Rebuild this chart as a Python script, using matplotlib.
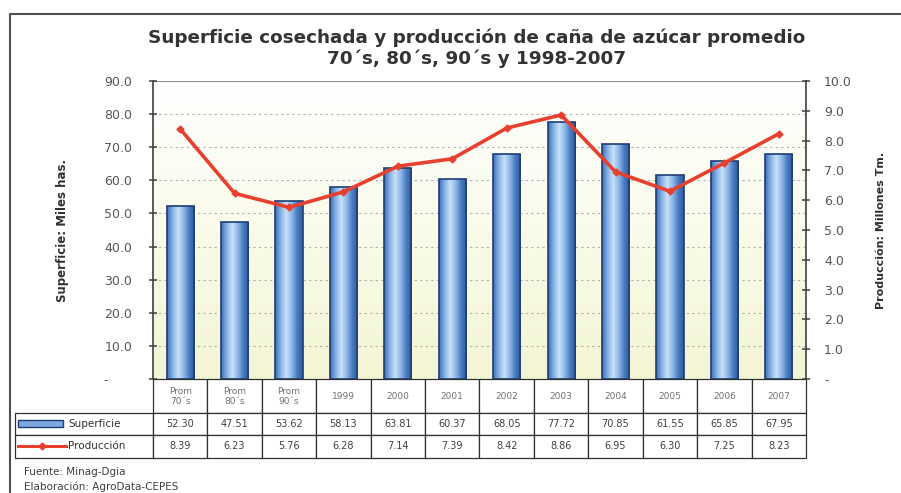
import numpy as np
import matplotlib
matplotlib.use("Agg")
import matplotlib.pyplot as plt
from matplotlib.colors import LinearSegmentedColormap
from matplotlib.patches import Rectangle
from matplotlib.lines import Line2D

plt.rcParams["font.family"] = ["DejaVu Sans"]

# ---- data ----
categories = ["Prom\n70´s", "Prom\n80´s", "Prom\n90´s", "1999", "2000", "2001",
              "2002", "2003", "2004", "2005", "2006", "2007"]
superficie = [52.30, 47.51, 53.62, 58.13, 63.81, 60.37, 68.05, 77.72, 70.85, 61.55, 65.85, 67.95]
produccion = [8.39, 6.23, 5.76, 6.28, 7.14, 7.39, 8.42, 8.86, 6.95, 6.30, 7.25, 8.23]
left_ticks = [10, 20, 30, 40, 50, 60, 70, 80, 90]
right_ticks = [1, 2, 3, 4, 5, 6, 7, 8, 9, 10]

title = "Superficie cosechada y producción de caña de azúcar promedio\n70´s, 80´s, 90´s y 1998-2007"

W, H = 901, 493
fig = plt.figure(figsize=(W / 100, H / 100), dpi=100)

# axes box in pixels (left, top, right, bottom)
L, T, R, B = 153, 81, 806, 379
ax = fig.add_axes([L / W, 1 - B / H, (R - L) / W, (B - T) / H])
ax2 = ax.twinx()

x = np.arange(len(categories))
ax.set_xlim(-0.5, len(categories) - 0.5)
ax.set_ylim(0, 90)
ax2.set_ylim(0, 10)

# background gradient: white top -> pale yellow bottom
bg = LinearSegmentedColormap.from_list("bg", ["#F3F5D4", "#FAFBEA", "#FFFFFF"])
ax.imshow(np.linspace(0, 1, 100).reshape(-1, 1), cmap=bg, aspect="auto",
          extent=[-0.5, len(categories) - 0.5, 0, 90], origin="lower", zorder=0)

# grid
for v in left_ticks[:-1]:
    ax.axhline(v, color="#B0B0B0", lw=0.8, ls=(0, (2, 3)), zorder=1)

# bars with cylinder-like gradient
bars = ax.bar(x, superficie, width=0.5, color="none", edgecolor="#1F3D73",
              linewidth=1.2, zorder=3)
bar_cmap = LinearSegmentedColormap.from_list(
    "barg", ["#3E6FB5", "#86B2E6", "#C9E0F8", "#8DB8EA", "#4A7CC0", "#2E5C9E"])
grad = np.linspace(0, 1, 64).reshape(1, -1)
for b in bars:
    x0, w, h = b.get_x(), b.get_width(), b.get_height()
    im = ax.imshow(grad, cmap=bar_cmap, aspect="auto",
                   extent=[x0, x0 + w, 0, h], zorder=2)
    im.set_clip_path(b)
ax.set_xlim(-0.5, len(categories) - 0.5)
ax.set_ylim(0, 90)

# production line
ax2.plot(x, produccion, color="#E8402F", lw=2.6, marker="D", ms=3.5,
         markerfacecolor="#E8402F", markeredgecolor="#E8402F", zorder=5)

# axes styling
for a in (ax, ax2):
    for s in a.spines.values():
        s.set_visible(False)
ax.spines["left"].set_visible(True)
ax.spines["left"].set_color("#404040")
ax.spines["left"].set_linewidth(1.2)
ax2.spines["right"].set_visible(True)
ax2.spines["right"].set_color("#404040")
ax2.spines["right"].set_linewidth(1.2)
ax.axhline(90, color="#909090", lw=0.8, zorder=1)

ax.set_yticks([0] + left_ticks)
ax.set_yticklabels(["-      "] + [f"{v:.1f}" for v in left_ticks])
ax2.set_yticks([0] + right_ticks)
ax2.set_yticklabels(["-"] + [f"{v:.1f}" for v in right_ticks])
ax.tick_params(axis="y", direction="inout", length=6, width=1.1, color="#404040",
               labelsize=9, labelcolor="#555555", pad=12)
ax2.tick_params(axis="y", direction="inout", length=6, width=1.1, color="#404040",
                labelsize=9, labelcolor="#555555", pad=10)
ax.set_xticks([])

ax.set_ylabel("Superficie: Miles has.", fontsize=8.5, fontweight="bold",
              color="#303030", labelpad=25)
ax2.set_ylabel("Producción: Millones Tm.", fontsize=8, fontweight="bold",
               color="#303030", labelpad=17)

fig.text((L + R) / 2 / W - 0.003, 1 - 48 / H, title, ha="center", va="center",
         fontsize=13.2, fontweight="bold", color="#333333", linespacing=1.2)

# ---- data table below the axes ----
n = len(categories)
row_label_px = L - 15
tbl = ax.table(cellText=[[f"{v:.2f}" for v in superficie],
                         [f"{v:.2f}" for v in produccion]],
               rowLabels=["Superficie", "Producción"],
               colLabels=categories,
               colWidths=[1 / n] * n,
               cellLoc="center", rowLoc="left",
               bbox=[0, -(458 - B) / (B - T), 1, (458 - B) / (B - T)])
tbl.auto_set_font_size(False)
# keep our own width for the row-label column
tbl._autoColumns = [c for c in tbl._autoColumns if c != -1]
heights = {0: 34, 1: 21, 2: 23}
for (r, c), cell in tbl.get_celld().items():
    cell.set_height(heights[r])
    cell.set_edgecolor("#303030")
    cell.set_linewidth(0.9)
    cell.set_facecolor("white")
    if r == 0:
        cell.get_text().set_fontsize(6.5)
        cell.get_text().set_color("#707070")
    else:
        cell.get_text().set_fontsize(7)
        cell.get_text().set_color("#404040")
    if c == -1:
        cell.set_width(row_label_px / (R - L))
        cell.get_text().set_fontsize(7.5)
        cell.get_text().set_color("#303030")
        cell.PAD = 0.385

# legend keys inside the row-label cells (figure pixel coordinates)
def fx(px):
    return px / W

def fy(py):
    return 1 - py / H

fig.patches.append(Rectangle((fx(18), fy(427)), fx(45), 7 / H, transform=fig.transFigure,
                             facecolor="#7FA9DF", edgecolor="#1F3D73", lw=1.0, zorder=10))
fig.lines.append(Line2D([fx(18), fx(66)], [fy(446), fy(446)], transform=fig.transFigure,
                        color="#E8402F", lw=2.2, zorder=10))
fig.lines.append(Line2D([fx(42)], [fy(446)], transform=fig.transFigure, color="#E8402F",
                        marker="D", ms=3.5, zorder=11))

# source notes
fig.text(fx(24), fy(472), "Fuente: Minag-Dgia", fontsize=7.5, color="#404040", va="center")
fig.text(fx(24), fy(487), "Elaboración: AgroData-CEPES", fontsize=7.5, color="#404040",
         va="center")

# outer frame (left and top edges)
fig.lines.append(Line2D([fx(10), fx(10), fx(901)], [fy(493), fy(14), fy(14)],
                        transform=fig.transFigure, color="#505050", lw=1.5))

fig.savefig("out.png", dpi=100)
